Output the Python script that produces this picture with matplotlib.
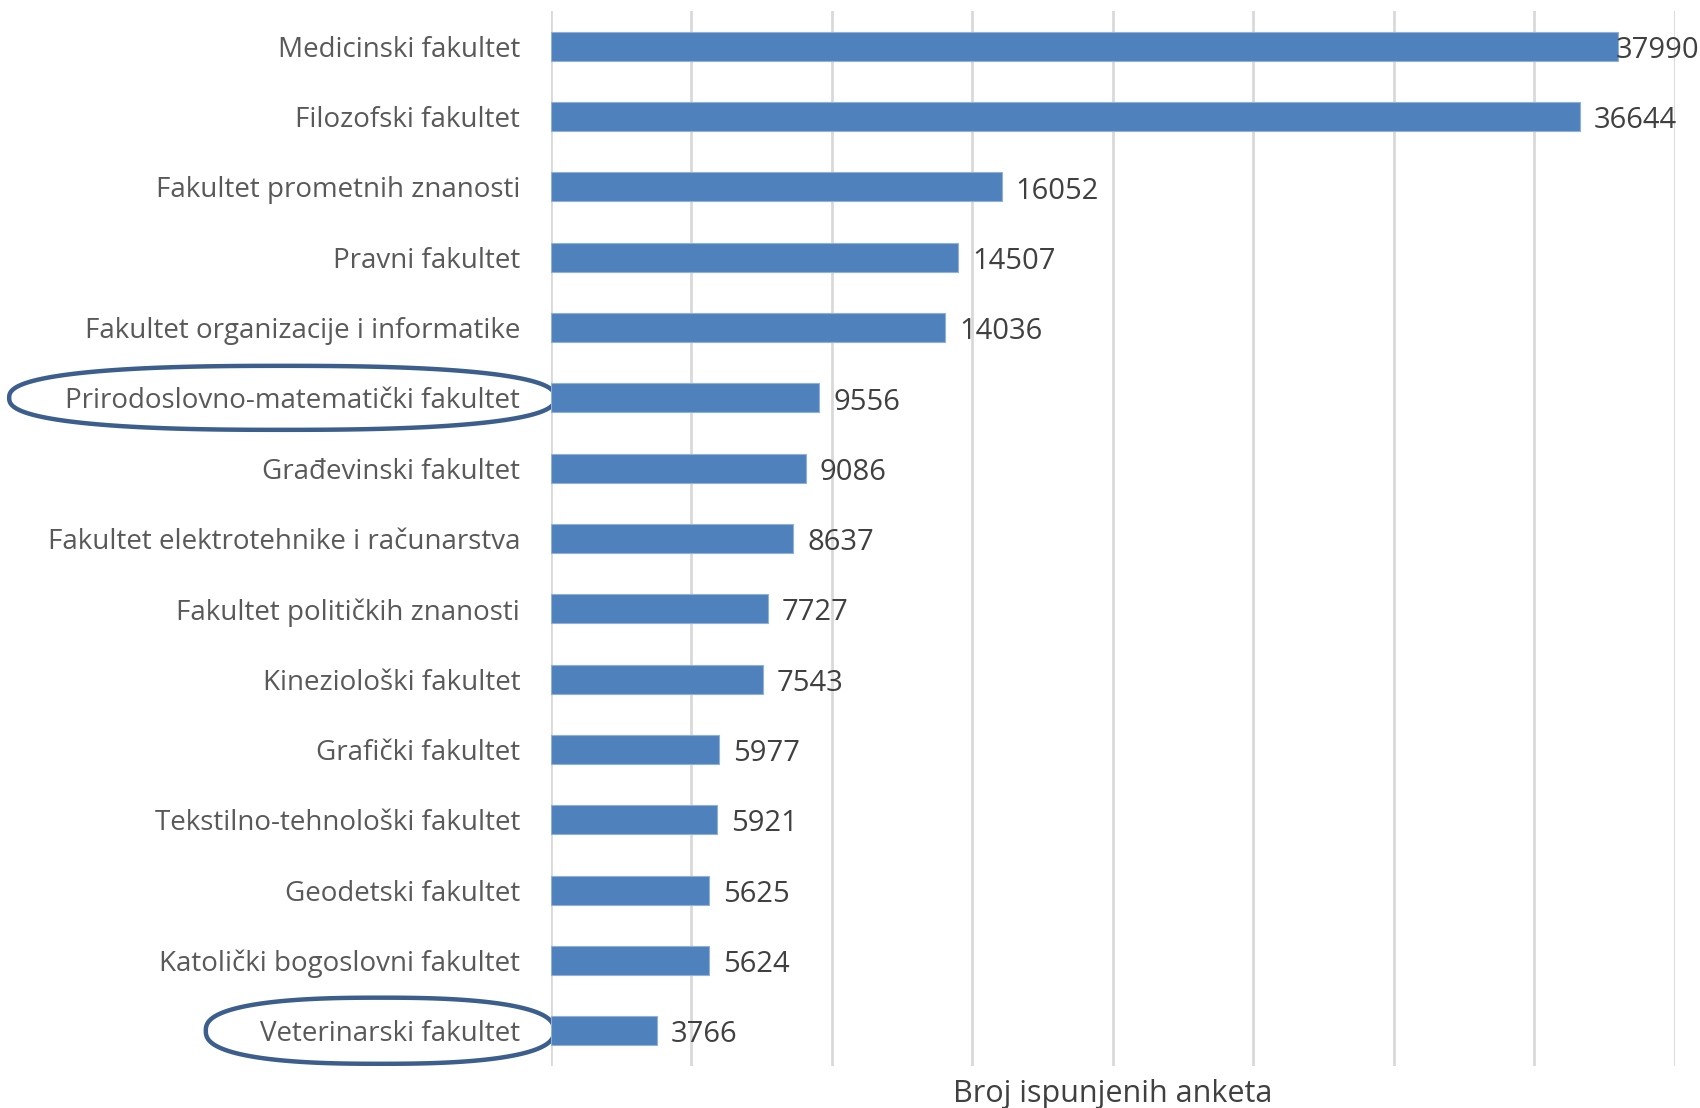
# Broj ispunjenih anketa po fakultetima - horizontalni stupčasti graf

import numpy as np
import matplotlib.pyplot as plt
from matplotlib.patches import Polygon
import matplotlib.transforms as mtransforms

# podaci
fakulteti = [
    'Medicinski fakultet',
    'Filozofski fakultet',
    'Fakultet prometnih znanosti',
    'Pravni fakultet',
    'Fakultet organizacije i informatike',
    'Prirodoslovno-matematički fakultet',
    'Građevinski fakultet',
    'Fakultet elektrotehnike i računarstva',
    'Fakultet političkih znanosti',
    'Kineziološki fakultet',
    'Grafički fakultet',
    'Tekstilno-tehnološki fakultet',
    'Geodetski fakultet',
    'Katolički bogoslovni fakultet',
    'Veterinarski fakultet',
]
ankete = [37990, 36644, 16052, 14507, 14036, 9556, 9086, 8637,
          7727, 7543, 5977, 5921, 5625, 5624, 3766]
istaknuti = ['Prirodoslovno-matematički fakultet', 'Veterinarski fakultet']

plt.rcParams['font.family'] = ['Open Sans', 'DejaVu Sans']

fig = plt.figure(figsize=(17, 11.08), dpi=100)
ax = fig.add_axes([0.324, 0.038, 0.661, 0.952])

pos = list(range(len(fakulteti)))
ax.barh(pos, ankete, height=0.41, color='#4f81bd', edgecolor='#8fb0d8',
        linewidth=0.8, zorder=3)

ax.set_xlim(0, 40000)
ax.set_ylim(len(fakulteti) - 0.5, -0.5)
ax.set_xticks(range(0, 40001, 5000))
ax.set_xticklabels([])
ax.grid(axis='x', color='#d9d9d9', linewidth=2, zorder=0)
ax.set_yticks(pos)
ax.set_yticklabels(fakulteti, fontsize=20, color='#595959')
ax.tick_params(axis='y', length=0, pad=22)
ax.tick_params(axis='x', length=0)
for s in ax.spines.values():
    s.set_visible(False)

# oznake vrijednosti
for i, v in enumerate(ankete):
    off = 10 if v < max(ankete) else -2
    ax.annotate(str(v), (v, i), xytext=(off, -3), textcoords='offset points',
                va='center', ha='left', fontsize=21, color='#404040', zorder=4)

ax.set_xlabel('Broj ispunjenih anketa', fontsize=22, color='#404040', labelpad=6)

# "elipse" (superelipse) oko istaknutih fakulteta
trans = mtransforms.blended_transform_factory(ax.transAxes, ax.transData)
oblik = {'Prirodoslovno-matematički fakultet': (-0.239, 0.486, 0.91),
         'Veterinarski fakultet': (-0.152, 0.310, 0.94)}
t = np.linspace(0, 2 * np.pi, 400)
n = 2.5
for naziv in istaknuti:
    cx, w, h = oblik[naziv]
    cy = fakulteti.index(naziv)
    xs = cx + w / 2 * np.sign(np.cos(t)) * np.abs(np.cos(t)) ** (2 / n)
    ys = cy + h / 2 * np.sign(np.sin(t)) * np.abs(np.sin(t)) ** (2 / n)
    p = Polygon(np.column_stack([xs, ys]), closed=True, transform=trans,
                fill=False, edgecolor='#3b5e8c', linewidth=3.2, clip_on=False)
    ax.add_patch(p)

fig.savefig('out.png', dpi=100)
